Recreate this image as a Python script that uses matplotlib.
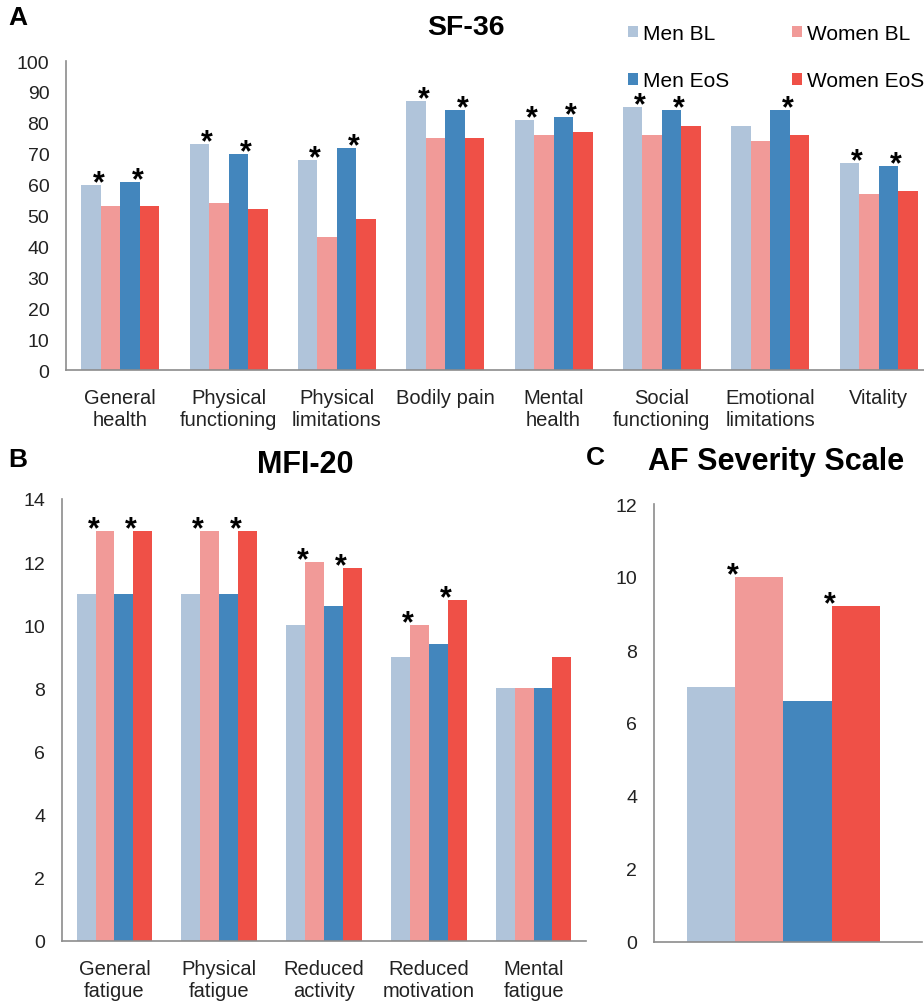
import matplotlib
matplotlib.use("Agg")
import matplotlib.pyplot as plt
from matplotlib import font_manager
import numpy as np

# ---------------- data ----------------
series = ["Men BL", "Women BL", "Men EoS", "Women EoS"]
colors = ["#B0C4DA", "#F19A98", "#4386BD", "#EF5047"]

sf_categories = ["General\nhealth", "Physical\nfunctioning", "Physical\nlimitations", "Bodily pain",
                 "Mental\nhealth", "Social\nfunctioning", "Emotional\nlimitations", "Vitality"]
sf_men_bl = [60, 73, 68, 87, 81, 85, 79, 67]
sf_women_bl = [53, 54, 43, 75, 76, 76, 74, 57]
sf_men_eos = [61, 70, 72, 84, 82, 84, 84, 66]
sf_women_eos = [53, 52, 49, 75, 77, 79, 76, 58]
sf_star_bl = [1, 1, 1, 1, 1, 1, 0, 1]
sf_star_eos = [1, 1, 1, 1, 1, 1, 1, 1]

mfi_categories = ["General\nfatigue", "Physical\nfatigue", "Reduced\nactivity", "Reduced\nmotivation", "Mental\nfatigue"]
mfi_men_bl = [11, 11, 10, 9, 8]
mfi_women_bl = [13, 13, 12, 10, 8]
mfi_men_eos = [11, 11, 10.6, 9.4, 8]
mfi_women_eos = [13, 13, 11.8, 10.8, 9]
mfi_star_bl = [1, 1, 1, 1, 0]
mfi_star_eos = [1, 1, 1, 1, 0]

af_values = [7, 10, 6.6, 9.2]
af_star_bl = [1]
af_star_eos = [1]

# ---------------- fonts ----------------
names = {f.name for f in font_manager.fontManager.ttflist}
BASE = "Liberation Sans" if "Liberation Sans" in names else "DejaVu Sans"
plt.rcParams["font.family"] = [BASE, "DejaVu Sans"]

fig = plt.figure(figsize=(9.24, 10.03), dpi=100)
W, H = 924.0, 1003.0


def axes_px(x0, y_top, x1, y_bot):
    return fig.add_axes([x0 / W, 1 - y_bot / H, (x1 - x0) / W, (y_bot - y_top) / H])


def style(ax, ymax, step):
    for s in ["top", "right"]:
        ax.spines[s].set_visible(False)
    for s in ["left", "bottom"]:
        ax.spines[s].set_color("#8C8C8C")
        ax.spines[s].set_linewidth(1.2)
    ax.set_ylim(0, ymax)
    ax.set_yticks(np.arange(0, ymax + 0.01, step))
    ax.tick_params(axis="both", length=0, colors="#222222")
    ax.tick_params(axis="x", pad=13, labelsize=14.5)
    ax.tick_params(axis="y", pad=12, labelsize=14)


def star(ax, x, top):
    ax.annotate("*", xy=(x, top), xytext=(-1.5, -4.5), textcoords="offset points",
                ha="center", va="baseline", fontsize=22, fontweight="bold", color="black")


def grouped(ax, cats, vals, star_bl, star_eos, w=0.18):
    x = np.arange(len(cats))
    handles = []
    for i, (v, c, lab) in enumerate(zip(vals, colors, series)):
        h = ax.bar(x + (i - 1.5) * w, v, width=w, color=c, label=lab, linewidth=0)
        handles.append(h)
    for j in range(len(cats)):
        if star_bl[j]:
            star(ax, x[j] - w, max(vals[0][j], vals[1][j]))
        if star_eos[j]:
            star(ax, x[j] + w, max(vals[2][j], vals[3][j]))
    ax.set_xticks(x)
    ax.set_xticklabels(cats, linespacing=1.2)
    return handles


# ---------------- Panel A ----------------
axA = axes_px(66, 62, 924, 371)
hA = grouped(axA, sf_categories, [sf_men_bl, sf_women_bl, sf_men_eos, sf_women_eos],
             sf_star_bl, sf_star_eos)
axA.set_xlim(-0.5, 7.42)
style(axA, 100, 10)
fig.text(466 / W, 1 - 28 / H, "SF-36", ha="center", va="center", fontsize=20.5, fontweight="bold")
fig.text(8 / W, 1 - 18 / H, "A", ha="left", va="center", fontsize=19, fontweight="bold")

leg = fig.legend([hA[0], hA[2], hA[1], hA[3]], [series[0], series[2], series[1], series[3]],
                 ncol=2, loc="upper left", bbox_to_anchor=(628 / W, 1 - 25 / H), frameon=False,
                 handlelength=0.48, handleheight=0.48, labelspacing=1.35, columnspacing=3.0,
                 handletextpad=0.25, borderpad=0, borderaxespad=0, prop={"size": 15})

# ---------------- Panel B ----------------
axB = axes_px(62, 500, 586, 942)
grouped(axB, mfi_categories, [mfi_men_bl, mfi_women_bl, mfi_men_eos, mfi_women_eos],
        mfi_star_bl, mfi_star_eos)
axB.set_xlim(-0.5, 4.5)
style(axB, 14, 2)
fig.text(305 / W, 1 - 465 / H, "MFI-20", ha="center", va="center", fontsize=22, fontweight="bold")
fig.text(8 / W, 1 - 460 / H, "B", ha="left", va="center", fontsize=19, fontweight="bold")

# ---------------- Panel C ----------------
axC = axes_px(654, 505, 922, 943)
w = 0.18
xc = np.array([-1.5, -0.5, 0.5, 1.5]) * w - 0.017
for v, c, xi, lab in zip(af_values, colors, xc, series):
    axC.bar(xi, v, width=w, color=c, linewidth=0, label=lab)
if af_star_bl[0]:
    star(axC, (xc[0] + xc[1]) / 2, max(af_values[0], af_values[1]))
if af_star_eos[0]:
    star(axC, (xc[2] + xc[3]) / 2, max(af_values[2], af_values[3]))
axC.set_xlim(-0.5, 0.5)
axC.set_xticks([])
style(axC, 12, 2)
fig.text(776 / W, 1 - 462 / H, "AF Severity Scale", ha="center", va="center", fontsize=22, fontweight="bold")
fig.text(586 / W, 1 - 458 / H, "C", ha="left", va="center", fontsize=19, fontweight="bold")

fig.savefig("out.png", dpi=100)
